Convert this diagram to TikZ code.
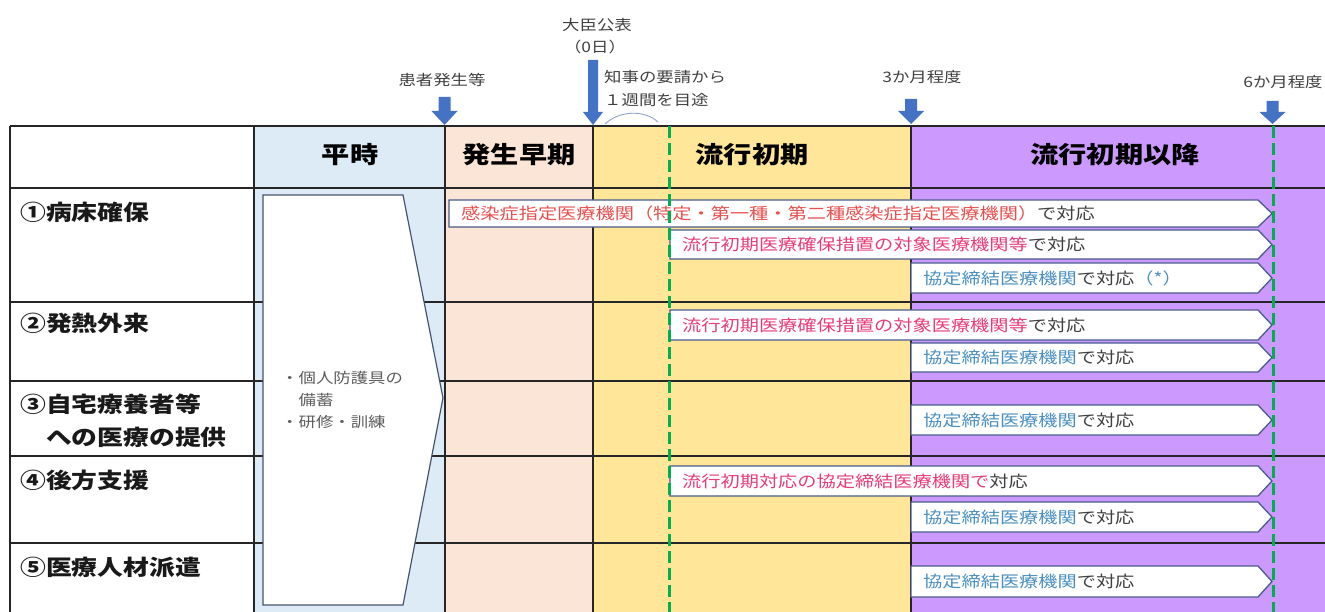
\documentclass[tikz,border=0pt]{standalone}
\usepackage{fontspec}
\setmainfont{Noto Sans CJK JP}[FakeStretch=1.2]
\definecolor{cpeace}{HTML}{DDEBF7}
\definecolor{cearly}{HTML}{FBE5D6}
\definecolor{cinit}{HTML}{FFE699}
\definecolor{clate}{HTML}{CC99FF}
\definecolor{cgrid}{HTML}{262626}
\definecolor{cbar}{HTML}{4B5A8C}
\definecolor{cred}{HTML}{E8504F}
\definecolor{cpink}{HTML}{E63C7A}
\definecolor{cblue}{HTML}{4A8FC0}
\definecolor{ctxt}{HTML}{404040}
\definecolor{carrow}{HTML}{4472C4}
\definecolor{cgreen}{HTML}{00B050}
\definecolor{cpent}{HTML}{44546A}
\definecolor{carc}{HTML}{8FA3C8}
\newcommand\mybar[5]{%
  \draw[barshape] (#2,#3) -- (1258,#3) -- (1272,{(#3+#4)/2}) -- (1258,#4) -- (#2,#4) -- cycle;
  \node[bartext] (#1) at ({#2+12},{(#3+#4)/2}) {#5};}
\newcommand\myblock[6]{% x, shaft top, head top, tip, shaft half, head half
  \fill[carrow] ({#1-#5},#2) -- ({#1+#5},#2) -- ({#1+#5},#3) -- ({#1+#6},#3) -- (#1,#4) -- ({#1-#6},#3) -- ({#1-#5},#3) -- cycle;}
\begin{document}
\begin{tikzpicture}[x=1pt,y=-1pt,
  gridline/.style={draw=cgrid, line width=1.4pt},
  barshape/.style={draw=cbar, line width=1.3pt, fill=white},
  bartext/.style={anchor=west, inner sep=0pt, font=\fontsize{16}{18}\selectfont, text=ctxt},
  hdr/.style={inner sep=0pt, font=\fontsize{23.5}{26}\selectfont\bfseries, text=black},
  lbl/.style={anchor=west, inner sep=0pt, align=left, font=\fontsize{21.5}{33}\selectfont\bfseries, text=black!90},
  toplbl/.style={inner sep=0pt, font=\fontsize{14.5}{18}\selectfont, text=ctxt},
  gline/.style={draw=cgreen, line width=3pt, dash pattern=on 12pt off 5pt}]
\useasboundingbox (0,0) rectangle (1325,612);
% column fills
\fill[white] (10,126) rectangle (254,612);
\fill[cpeace] (254,126) rectangle (445,612);
\fill[cearly] (445,126) rectangle (593,612);
\fill[cinit] (593,126) rectangle (911,612);
\fill[clate] (911,126) rectangle (1325,612);
% grid
\foreach \yy in {126,188,302,381,456,543} \draw[gridline] (10,\yy) -- (1325,\yy);
\foreach \xx in {10,254,445,593,911} \draw[gridline] (\xx,126) -- (\xx,612);
% header texts
\node[hdr] (h1) at (350,155) {平時};
\node[hdr] (h2) at (519,155) {発生早期};
\node[hdr] (h3) at (752,155) {流行初期};
\node[hdr] (h4) at (1115,155) {流行初期以降};
% row labels
\node[lbl] (r1) at (20,212) {①病床確保};
\node[lbl] (r2) at (20,323) {②発熱外来};
\node[lbl] (r3) at (20,420.5) {③自宅療養者等\\\hphantom{③}への医療の提供};
\node[lbl] (r4) at (20,480) {④後方支援};
\node[lbl] (r5) at (20,567) {⑤医療人材派遣};
% peace-time pentagon
\draw[draw=cpent, line width=1.2pt, fill=white] (263,195) -- (403,195) -- (443,398) -- (403,605) -- (263,605) -- cycle;
\node[anchor=west, inner sep=0pt, align=left, font=\fontsize{14.5}{22}\selectfont, text=ctxt!85] (pt) at (281,400)
  {・個人防護具の\\\hphantom{・}備蓄\\・研修・訓練};
% bars
\mybar{b11}{449}{200}{227}{\textcolor{cred}{感染症指定医療機関（特定・第一種・第二種感染症指定医療機関）}で対応}
\mybar{b12}{670}{230}{259}{\textcolor{cpink}{流行初期医療確保措置の対象医療機関等}で対応}
\mybar{b13}{911}{263}{293}{\textcolor{cblue}{協定締結医療機関}で対応\textcolor{cblue}{（*）}}
\mybar{b21}{670}{310}{340}{\textcolor{cpink}{流行初期医療確保措置の対象医療機関等}で対応}
\mybar{b22}{911}{343}{372}{\textcolor{cblue}{協定締結医療機関}で対応}
\mybar{b31}{911}{405}{435}{\textcolor{cblue}{協定締結医療機関}で対応}
\mybar{b41}{670}{466}{496}{\textcolor{cpink}{流行初期対応の協定締結医療機関で}対応}
\mybar{b42}{911}{502}{532}{\textcolor{cblue}{協定締結医療機関}で対応}
\mybar{b51}{911}{566}{597}{\textcolor{cblue}{協定締結医療機関}で対応}
% green dashed lines
\draw[gline] (669,126) -- (669,612);
\draw[gline] (1273,126) -- (1273,612);
% top markers
\myblock{444.5}{97}{111}{125}{6}{13}
\myblock{593}{60}{112}{125}{5}{10}
\myblock{911}{99}{111}{124}{6}{13}
\myblock{1272.5}{101}{112}{124}{6}{13}
\node[toplbl] (t1) at (442,80) {患者発生等};
\node[toplbl] (t2) at (597,25) {大臣公表};
\node[toplbl] (t3) at (595,47) {（0日）};
\node[toplbl, anchor=west] (t4) at (604,77) {知事の要請から};
\node[toplbl, anchor=west] (t5) at (604,100) {１週間を目途};
\node[toplbl] (t6) at (922,77) {3か月程度};
\node[toplbl] (t7) at (1283,82) {6か月程度};
\draw[carc, line width=0.9pt] (605,124) .. controls (620,110) and (645,110) .. (658,122);
\end{tikzpicture}
\end{document}
